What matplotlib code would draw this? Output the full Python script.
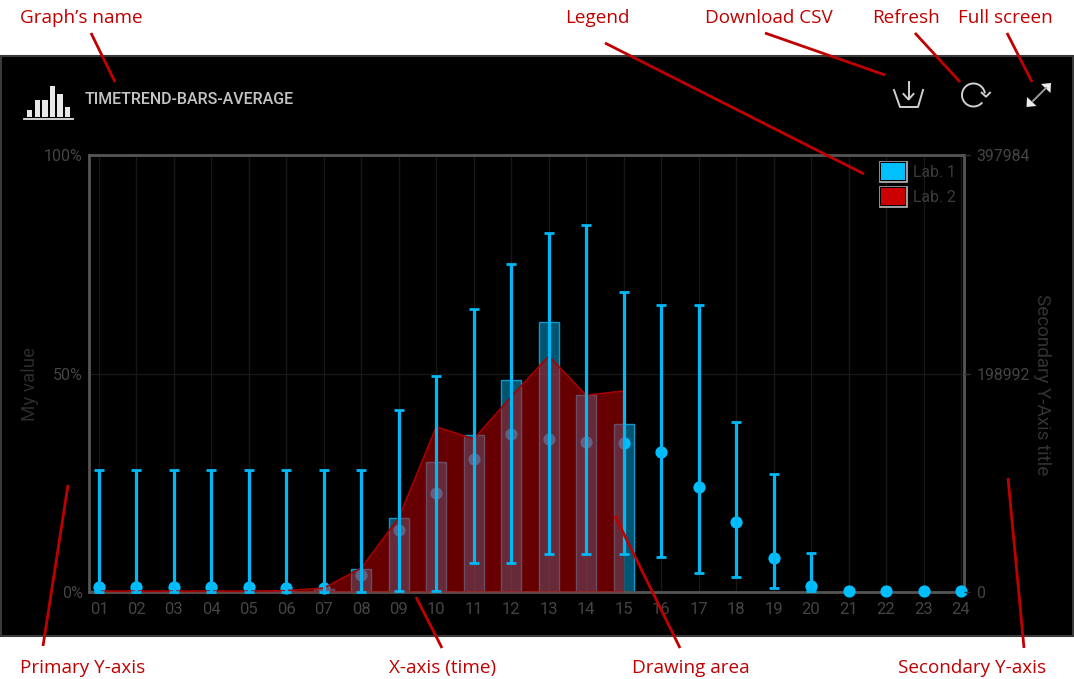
import numpy as np
import matplotlib
matplotlib.use("Agg")
import matplotlib.pyplot as plt
import matplotlib.patheffects as pe
from matplotlib.patches import Rectangle, Patch, Arc, Polygon

# values
hours = np.arange(1, 25)
hour_labels = ["%02d" % h for h in hours]
bar_hours = hours[:15]
lab1_bars = [0.2, 0.2, 0.2, 0.2, 0.2, 0.2, 0.7, 5.3, 17, 29.8, 36, 48.4, 61.7, 45, 38.5]
mean_vals = [1.1, 1.1, 1.1, 1.1, 1.1, 1.0, 0.9, 4, 14.2, 22.7, 30.5, 36.2, 35, 34.4, 34,
             32, 24, 16, 7.8, 1.4, 0.2, 0.2, 0.2, 0.2]
err_top = [28, 28, 28, 28, 28, 28, 28, 28, 41.7, 49.5, 64.7, 75, 82.1, 84, 68.6,
           65.6, 65.6, 38.8, 27, 9, 0.2, 0.2, 0.2, 0.2]
err_bottom = [0, 0, 0, 0, 0, 0, 0, 0, 0.2, 0.2, 6.6, 6.6, 8.7, 8.7, 8.7,
              8, 4.4, 3.4, 1, 0.2, 0.2, 0.2, 0.2, 0.2]
lab2_area = [800, 800, 800, 800, 800, 1200, 3600, 21900, 67700, 150400, 139300,
             177900, 214900, 179100, 183100]
right_max = 397984

W, H = 1074, 679
BLUE = "#00bfff"
RED = "#cc0000"
NOTE = "#c00000"
DIM = "#444444"
FRAME = "#555555"

plt.rcParams["font.family"] = ["Roboto", "DejaVu Sans"]
fig = plt.figure(figsize=(W / 100, H / 100), dpi=100, facecolor="white")

# pixel layer for the panel behind the chart
back = fig.add_axes([0, 0, 1, 1], zorder=0)
back.set_xlim(0, W)
back.set_ylim(H, 0)
back.axis("off")
back.add_patch(Rectangle((0.5, 55.5), 1072, 580, facecolor="black", edgecolor="#3a3a3a", lw=1.5))

L, R, T, B = 88.5, 964, 155, 592
ax = fig.add_axes([L / W, 1 - B / H, (R - L) / W, (B - T) / H], zorder=1)
ax.patch.set_alpha(0)
ax.set_xlim(1 - 10.5 / 37.48, 24 + 3 / 37.48)
ax.set_ylim(0, 100)

ax.grid(True, color="#171717", lw=1)
ax.set_axisbelow(True)
ax.set_xticks(hours)
ax.set_xticklabels(hour_labels)
ax.set_yticks([0, 50, 100])
ax.set_yticklabels(["0%", "50%", "100%"])
ax.tick_params(axis="x", length=0, pad=7, labelsize=12, labelcolor=DIM)
ax.tick_params(axis="y", length=0, pad=4, labelsize=11.5, labelcolor=DIM)
for s in ax.spines.values():
    s.set_color(FRAME)
    s.set_linewidth(2)
ax.set_ylabel("My value", color="#2c2c2c", fontsize=13.5, labelpad=0)
ax.yaxis.set_label_coords((39 - L) / (R - L), 0.475)

ax.bar(bar_hours, lab1_bars, width=0.53, facecolor=(0, 0.75, 1, 0.45),
       edgecolor=(0.05, 0.6, 0.8, 1), lw=1, zorder=2)
ax.plot(hours, mean_vals, "o", color=BLUE, ms=8.8, mew=0, zorder=3, clip_on=False)

area_pct = np.array(lab2_area) / right_max * 100
ax.fill_between(bar_hours, area_pct, color=RED, alpha=0.5, lw=0, zorder=4)
ax.plot(bar_hours, area_pct, color="#a80000", lw=1.2, zorder=4.5)

mean_arr = np.array(mean_vals)
ax.errorbar(hours[:20], mean_arr[:20],
            yerr=[mean_arr[:20] - np.array(err_bottom[:20]), np.array(err_top[:20]) - mean_arr[:20]],
            fmt="none", ecolor="#00b8f5", elinewidth=2.3, capsize=3.3, capthick=2, zorder=5, clip_on=False)

# legend swatches with a grey outline and a black gap
effects = [pe.Stroke(linewidth=3.4, foreground="#b5b5b5"), pe.Stroke(linewidth=1.6, foreground="black"), pe.Normal()]
handles = [Patch(facecolor=BLUE, edgecolor="none", label="Lab. 1", path_effects=effects),
           Patch(facecolor=RED, edgecolor="none", label="Lab. 2", path_effects=effects)]
leg = ax.legend(handles=handles, loc="upper right", frameon=False, fontsize=11.3, labelcolor="#3c3c3c",
                handlelength=1.5, handleheight=1.28, handletextpad=0.55, labelspacing=0.55,
                bbox_to_anchor=(0.991, 0.982), borderaxespad=0, borderpad=0)
leg.set_zorder(6)

ax2 = ax.twinx()
ax2.set_ylim(0, right_max * 1.0)
ax2.set_yticks([0, 198992, right_max])
ax2.set_yticklabels(["0", "198992", "397984"])
ax2.tick_params(axis="y", length=4, width=1, color="#333333", pad=5, labelsize=11.4, labelcolor=DIM)
for s in ax2.spines.values():
    s.set_visible(False)
ax2.set_ylabel("Secondary Y-Axis title", color="#333333", fontsize=13.6, rotation=270)
ax2.yaxis.set_label_coords((1051 - L) / (R - L), 0.475)

# pixel layer for title, icons and the red notes
top = fig.add_axes([0, 0, 1, 1], zorder=2)
top.set_xlim(0, W)
top.set_ylim(H, 0)
top.axis("off")
top.patch.set_alpha(0)

top.text(85, 99, "TIMETREND-BARS-AVERAGE", color="#c4c4c4", fontsize=11.5, fontweight="medium",
         va="center", ha="left")

# chart icon
icon_x = [27, 34.7, 42.2, 49.7, 57.2, 64.7]
icon_top = [110, 99.5, 99.5, 86, 94, 107]
for x, t in zip(icon_x, icon_top):
    top.add_patch(Rectangle((x, t), 5.3, 117 - t, facecolor="#e8e8e8", edgecolor="none"))
top.plot([24, 73], [119, 119], color="#e0e0e0", lw=1.3)

# download icon
ICON = "#d0d0d0"
top.plot([894, 900, 918, 923], [90, 107, 107, 90], color=ICON, lw=1.4)
top.plot([908.5, 908.5], [82, 99], color=ICON, lw=1.4)
top.plot([903.5, 908.5, 913.5], [94, 99.5, 94], color=ICON, lw=1.4)

# refresh icon
top.add_patch(Arc((973.5, 95), 23, 23, theta1=40, theta2=352, color=ICON, lw=1.4))
top.plot([981.7, 986, 990], [92.7, 96.7, 92.7], color=ICON, lw=1.4)

# full screen icon
top.plot([1033, 1046], [101, 88], color="#9a9a9a", lw=1.4)
top.add_patch(Polygon([[1026.5, 107], [1027, 97], [1036.5, 106]], closed=True, facecolor="#ececec", edgecolor="none"))
top.add_patch(Polygon([[1051, 83], [1050.5, 93], [1041, 84]], closed=True, facecolor="#ececec", edgecolor="none"))

notes = [("Graph’s name", 20, 18), ("Legend", 565, 18), ("Download CSV", 705, 18), ("Refresh", 872, 18),
         ("Full screen", 958, 18), ("Primary Y-axis", 20, 668), ("X-axis (time)", 389, 668),
         ("Drawing area", 632, 668), ("Secondary Y-axis", 898, 668)]
for label, x, y in notes:
    top.text(x, y, label, color=NOTE, fontsize=13.6, family="Open Sans", va="center", ha="left")

note_lines = [((91, 33), (115, 82)), ((605, 43), (864, 174)), ((765, 33), (885, 75)), ((915, 33), (960, 82)),
              ((1007, 33), (1032, 82)), ((68, 485), (43, 646)), ((416, 597), (442, 648)),
              ((615, 516), (680, 648)), ((1008, 478), (1024, 648))]
for a, b in note_lines:
    top.plot([a[0], b[0]], [a[1], b[1]], color=NOTE, lw=2, solid_capstyle="butt")

fig.savefig("out.png", dpi=100, facecolor="white")
